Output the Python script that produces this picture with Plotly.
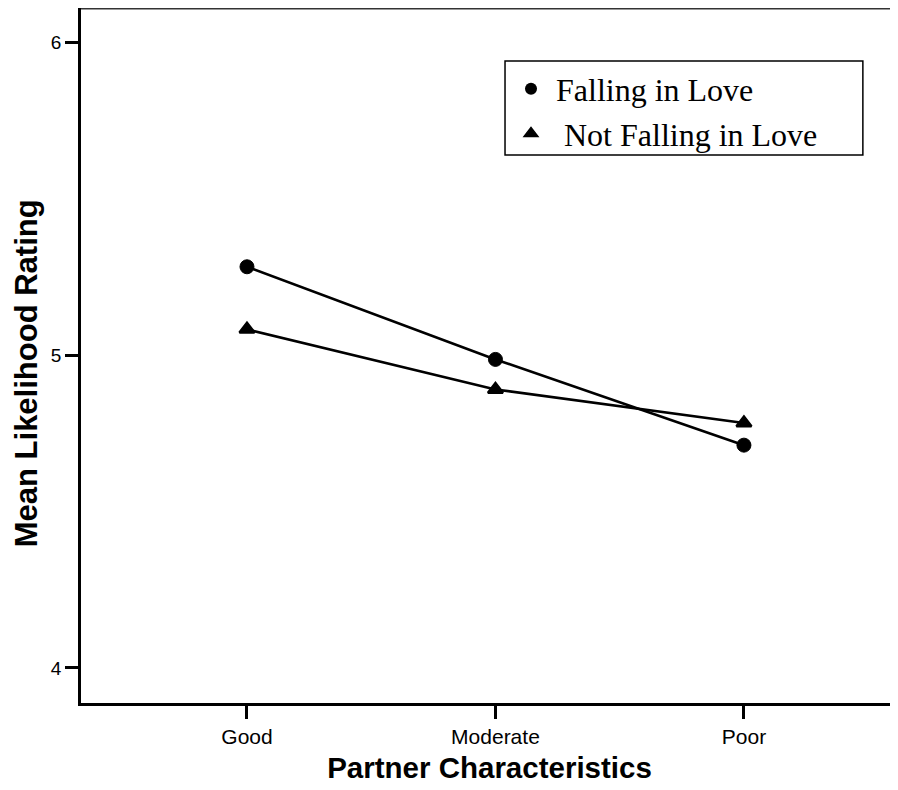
import plotly.graph_objects as go

categories = ["Good", "Moderate", "Poor"]
falling = [5.282, 4.986, 4.712]
not_falling = [5.082, 4.890, 4.783]
series_names = ["Falling in Love", "\u00a0Not Falling in Love"]
y_ticks = [4, 5, 6]

fig = go.Figure()

fig.add_trace(go.Scatter(
    x=categories, y=falling, mode="lines+markers", showlegend=False,
    line=dict(color="black", width=2.6),
    marker=dict(symbol="circle", size=14, color="black", line=dict(color="black", width=1)),
))
fig.add_trace(go.Scatter(
    x=categories, y=not_falling, mode="lines+markers", showlegend=False,
    line=dict(color="black", width=2.6),
    marker=dict(symbol="triangle-up", size=13, color="black", line=dict(color="black", width=2.5)),
))
# legend-only entries (markers only, no line)
fig.add_trace(go.Scatter(
    x=[None], y=[None], mode="markers", name=series_names[0],
    marker=dict(symbol="circle", size=12, color="black"),
))
fig.add_trace(go.Scatter(
    x=[None], y=[None], mode="markers", name=series_names[1],
    marker=dict(symbol="triangle-up", size=12, color="black", line=dict(color="black", width=1.5)),
))

fig.update_layout(
    width=890, height=782,
    margin=dict(l=73, r=0, t=0, b=87),
    paper_bgcolor="white", plot_bgcolor="white",
    font=dict(family="Liberation Sans, Arial, sans-serif", color="black"),
    showlegend=True,
    legend=dict(
        x=0.5202, y=0.923, xanchor="left", yanchor="top",
        bgcolor="rgba(0,0,0,0)", borderwidth=0, itemwidth=40,
        font=dict(family="Liberation Serif, Times New Roman, serif", size=32, color="black"),
        tracegroupgap=0,
    ),
    xaxis=dict(
        type="category", categoryorder="array", categoryarray=categories,
        range=[-0.668, 2.62],
        showline=True, linecolor="black", linewidth=2.8,
        showgrid=False, zeroline=False,
        ticks="outside", ticklen=13, tickwidth=2.5, tickcolor="black",
        tickfont=dict(size=21, family="Liberation Sans, Arial, sans-serif"),
        title=dict(text="<b>Partner Characteristics</b>",
                   font=dict(size=29.5, family="Liberation Sans, Arial, sans-serif"), standoff=11),
    ),
    yaxis=dict(
        range=[3.888, 6.109],
        tickvals=y_ticks, ticktext=[str(v) for v in y_ticks],
        showline=True, linecolor="black", linewidth=2.8,
        showgrid=False, zeroline=False,
        ticks="outside", ticklen=13, tickwidth=2.5, tickcolor="black",
        tickfont=dict(size=19, family="Liberation Sans, Arial, sans-serif"),
    ),
    annotations=[
        dict(text="<b>Mean Likelihood Rating</b>", textangle=-90,
             xref="paper", yref="paper", x=-0.067, y=0.4748,
             xanchor="center", yanchor="middle", showarrow=False,
             font=dict(size=31, family="Liberation Sans, Arial, sans-serif", color="black")),
    ],
    shapes=[
        dict(type="line", xref="paper", yref="paper", x0=0, x1=1, y0=1, y1=1,
             line=dict(color="#333333", width=3)),
        dict(type="rect", xref="paper", yref="paper",
             x0=0.519, x1=0.957, y0=0.7885, y1=0.9237,
             line=dict(color="black", width=1.5), fillcolor="rgba(0,0,0,0)"),
    ],
)

fig.write_html("out.html")
